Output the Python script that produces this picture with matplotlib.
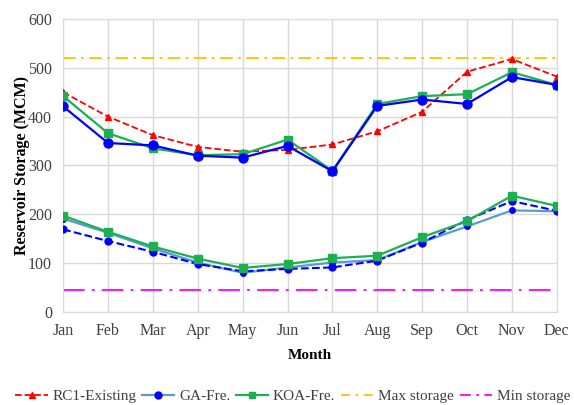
import numpy as np
import matplotlib
matplotlib.use('agg')
import matplotlib.pyplot as plt
from matplotlib.lines import Line2D

months = ['Jan', 'Feb', 'Mar', 'Apr', 'May', 'Jun', 'Jul', 'Aug', 'Sep', 'Oct', 'Nov', 'Dec']

# upper reservoir
rc1_upper = [450, 400, 362, 338, 328, 332, 343, 370, 410, 492, 518, 482]
ga_upper = [421, 346, 341, 320, 316, 340, 288, 422, 435, 426, 481, 465]
koa_upper = [442, 366, 335, 321, 323, 353, 289, 426, 442, 446, 491, 465]

# lower reservoir
rc1_lower = [169, 145, 123, 98, 83, 88, 91, 105, 142, 188, 227, 207]
ga_lower = [191, 162, 130, 101, 80, 91, 101, 106, 143, 175, 208, 206]
koa_lower = [197, 164, 134, 109, 90, 98, 110, 115, 153, 186, 238, 217]

max_storage = 520
min_storage = 45

plt.rcParams['font.family'] = ['Liberation Serif', 'DejaVu Serif']

red = '#ff0000'
blue = '#0000ff'
light_blue = '#5b9bd5'
green = '#1db053'
orange = '#ffc000'
magenta = '#ff00ff'

x = np.arange(len(months))

fig = plt.figure(figsize=(5.74, 4.05), dpi=100)
ax = fig.add_axes([0.110, 0.230, 0.860, 0.723])

ax.axhline(max_storage, color=orange, lw=1.3, ls=(0, (7, 3, 1.5, 3)), zorder=2)
ax.axhline(min_storage, color=magenta, lw=1.3, ls=(0, (12, 4, 1.5, 4)), zorder=2)

ax.plot(x, rc1_upper, color=red, ls='--', lw=1.3, marker='^', ms=4, zorder=3)
ax.plot(x, koa_upper, color=green, lw=1.6, marker='s', ms=6, zorder=3)
ax.plot(x, ga_upper, color=blue, lw=1.6, marker='o', ms=6.5, zorder=4)

ax.plot(x, ga_lower, color=light_blue, lw=1.6, marker='o', ms=4, mfc=blue, mec=blue, zorder=3)
ax.plot(x, rc1_lower, color=blue, ls='--', lw=1.5, marker='o', ms=5, zorder=4)
ax.plot(x, koa_lower, color=green, lw=1.6, marker='s', ms=6, zorder=5)

ax.set_xlim(0, 11)
ax.set_ylim(0, 600)
ax.set_xticks(x)
ax.set_xticklabels(months)
ax.set_yticks(np.arange(0, 601, 100))
ax.grid(True, color='#d9d9d9', lw=1.0)
ax.set_axisbelow(True)
for s in ax.spines.values():
    s.set_color('#d9d9d9')
ax.tick_params(length=0, labelsize=11.5, labelcolor='#404040', pad=8)

ax.set_xlabel('Month', fontsize=11, fontweight='bold', labelpad=7)
ax.set_ylabel('Reservoir Storage (MCM)', fontsize=11.5, fontweight='bold')
ax.yaxis.set_label_coords(-0.068, 0.5)

handles = [
    Line2D([], [], color=red, ls='--', lw=1.3, marker='^', ms=4),
    Line2D([], [], color=light_blue, lw=1.6, marker='o', ms=5, mfc=blue, mec=blue),
    Line2D([], [], color=green, lw=1.6, marker='s', ms=5),
    Line2D([], [], color=orange, lw=1.3, ls=(0, (5, 3, 1.5, 3))),
    Line2D([], [], color=magenta, lw=1.3, ls=(0, (6, 3, 1.5, 3))),
]
labels = ['RC1-Existing', 'GA-Fre.', 'KOA-Fre.', 'Max storage', 'Min storage']
fig.legend(handles, labels, loc='center', bbox_to_anchor=(0.51, 0.022), ncol=5,
           frameon=False, fontsize=11, handlelength=2.1, handletextpad=0.3,
           columnspacing=0.4, labelcolor='#404040', borderpad=0.2)

fig.savefig('out.png', dpi=100)
